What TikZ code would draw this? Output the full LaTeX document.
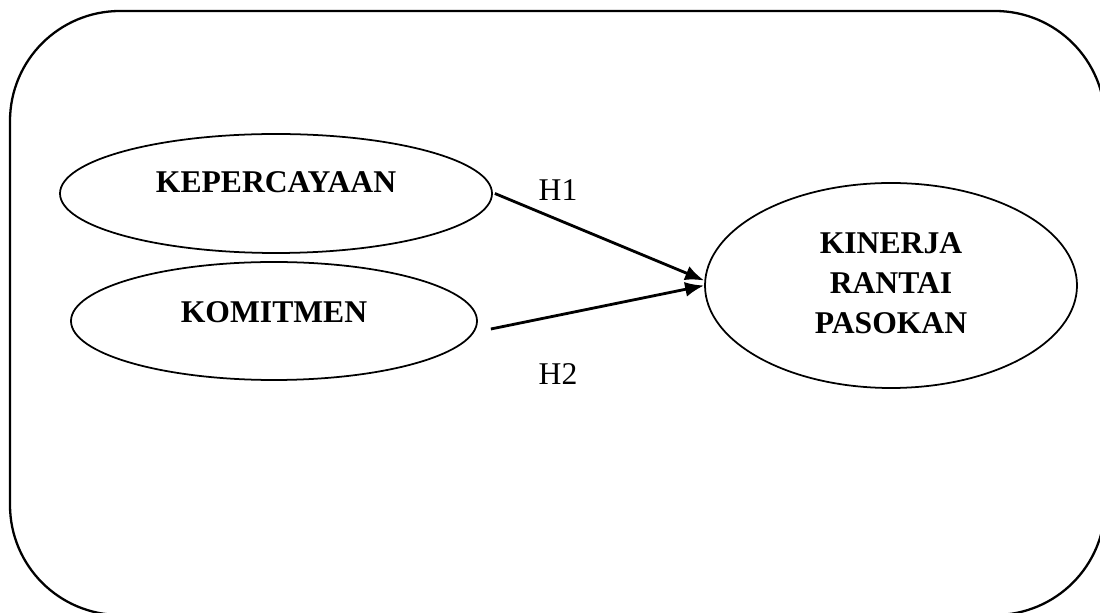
\documentclass[tikz,border=0pt]{standalone}
\usepackage{fontspec}
\setmainfont{Liberation Serif}
\usetikzlibrary{shapes.geometric,arrows.meta}
\tikzset{
  >={Latex[length=0.38cm,width=0.3cm]},
}
\tikzstyle{frame}=[line width=1.3pt,rounded corners=2.2cm]
\tikzstyle{var}=[draw,ellipse,line width=1pt,inner sep=0pt]
\tikzstyle{varname}=[font=\fontsize{18}{22.7}\selectfont\bfseries,align=center]
\tikzstyle{path}=[line width=1.6pt,->]
\tikzstyle{every node}=[font=\fontsize{18}{21}\selectfont]

\begin{document}
\begin{tikzpicture}
    \useasboundingbox (0,0) rectangle (22,12.24);
    \draw[frame] (0.2,12.02) rectangle (22.1,-0.06);
    % variables
    \node[var,minimum width=8.64cm,minimum height=2.38cm,
      label={[varname,yshift=0.23cm]center:KEPERCAYAAN}] (trust) at (5.52,8.37) {};
    \node[var,minimum width=8.12cm,minimum height=2.36cm,
      label={[varname,yshift=0.18cm]center:KOMITMEN}] (commit) at (5.48,5.82) {};
    \node[var,minimum width=7.44cm,minimum height=4.1cm,
      label={[varname,yshift=0.05cm]center:KINERJA\\RANTAI\\PASOKAN}] (perf) at (17.82,6.53) {};
    % hypotheses
    \draw[path] ([xshift=0.04cm]trust.east) -- ([yshift=0.1cm]perf.west);
    \draw[path] ([xshift=0.26cm,yshift=-0.16cm]commit.east) -- (perf.west);
    \node (h1) at (11.16,8.44) {H1};
    \node (h2) at (11.16,4.76) {H2};
\end{tikzpicture}
\end{document}
